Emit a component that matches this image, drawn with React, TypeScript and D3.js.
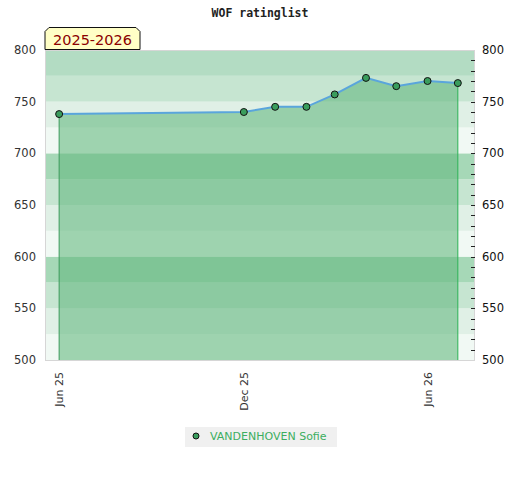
import React, { useEffect, useRef } from 'react';
import * as d3 from 'd3';

// rating history (monthly lists)
const dates = ['2025-06-01', '2025-12-01', '2026-01-01', '2026-02-01', '2026-03-01', '2026-04-01', '2026-05-01', '2026-06-01', '2026-07-01'];
const ratings = [738, 740, 745, 745, 757, 773, 765, 770, 768];
const xTickDates = ['2025-06-01', '2025-12-01', '2026-06-01'];
const yTicks = [500, 550, 600, 650, 700, 750, 800];
const seasonLabel = '2025-2026';
const playerName = 'VANDENHOVEN Sofie';
const title = 'WOF ratinglist';

const App = () => {
  const svgRef = useRef<SVGSVGElement>(null);
  const width = 520;
  const height = 480;
  const margin = { top: 50, right: 45, bottom: 120, left: 45 };

  useEffect(() => {
    const svg = d3.select(svgRef.current);
    svg.selectAll('*').remove();

    const parse = d3.timeParse('%Y-%m-%d');
    const data = dates.map((d, i) => ({ date: parse(d) as Date, value: ratings[i] }));

    const x = d3.scaleTime()
      .domain([new Date(2025, 4, 18), new Date(2026, 6, 18)])
      .range([margin.left, width - margin.right]);
    const y = d3.scaleLinear()
      .domain([500, 800])
      .range([height - margin.bottom, margin.top]);

    // background bands, every 25 points, repeating each 100
    const bandColors = ['#a6d8b7', '#c6e5d1', '#e0f0e6', '#f1f9f4'];
    const bands = d3.range(500, 800, 25);
    svg.append('g')
      .selectAll('rect')
      .data(bands)
      .enter()
      .append('rect')
      .attr('x', margin.left)
      .attr('width', width - margin.left - margin.right)
      .attr('y', d => y(d + 25))
      .attr('height', d => y(d) - y(d + 25))
      .attr('fill', d => {
        const idx = 3 - ((d - 500) % 100) / 25;
        if (d === 775) return '#b3dcc3';
        return bandColors[idx];
      });

    // area under the rating line
    const area = d3.area<{ date: Date; value: number }>()
      .x(d => x(d.date))
      .y0(y(500))
      .y1(d => y(d.value));
    svg.append('path')
      .datum(data)
      .attr('d', area)
      .attr('fill', 'rgb(99,183,125)')
      .attr('fill-opacity', 0.58);

    // vertical edges of the area
    const first = data[0];
    const last = data[data.length - 1];
    svg.append('line')
      .attr('x1', x(first.date)).attr('x2', x(first.date))
      .attr('y1', y(first.value)).attr('y2', y(500))
      .attr('stroke', '#3b9b5c').attr('stroke-width', 1);
    svg.append('line')
      .attr('x1', x(last.date)).attr('x2', x(last.date))
      .attr('y1', y(last.value)).attr('y2', y(500))
      .attr('stroke', '#2cb255').attr('stroke-width', 1);

    // rating line
    const line = d3.line<{ date: Date; value: number }>()
      .x(d => x(d.date))
      .y(d => y(d.value));
    svg.append('path')
      .datum(data)
      .attr('d', line)
      .attr('fill', 'none')
      .attr('stroke', '#5aa5dc')
      .attr('stroke-width', 2);

    // plot border
    svg.append('rect')
      .attr('x', margin.left + 0.5)
      .attr('y', margin.top + 0.5)
      .attr('width', width - margin.left - margin.right - 1)
      .attr('height', height - margin.top - margin.bottom)
      .attr('fill', 'none')
      .attr('stroke', '#d6d6d6');

    // right side minor ticks
    svg.append('g')
      .selectAll('line')
      .data(d3.range(510, 800, 10))
      .enter()
      .append('line')
      .attr('x1', width - margin.right - 4)
      .attr('x2', width - margin.right)
      .attr('y1', d => Math.round(y(d)) + 0.5)
      .attr('y2', d => Math.round(y(d)) + 0.5)
      .attr('stroke', '#222');

    // markers
    svg.append('g')
      .selectAll('circle')
      .data(data)
      .enter()
      .append('circle')
      .attr('cx', d => x(d.date))
      .attr('cy', d => y(d.value))
      .attr('r', 3.5)
      .attr('fill', '#3a9d5d')
      .attr('stroke', '#111')
      .attr('stroke-width', 1);

    // y labels, both sides
    const font = 'DejaVu Sans, Verdana, sans-serif';
    svg.append('g')
      .selectAll('text')
      .data(yTicks)
      .enter()
      .append('text')
      .attr('x', 36)
      .attr('y', d => y(d) + 4)
      .attr('text-anchor', 'end')
      .style('font-family', font)
      .style('font-size', '11.5px')
      .attr('fill', '#333')
      .text(d => d);
    svg.append('g')
      .selectAll('text')
      .data(yTicks)
      .enter()
      .append('text')
      .attr('x', 482)
      .attr('y', d => y(d) + 4)
      .attr('text-anchor', 'start')
      .style('font-family', font)
      .style('font-size', '11.5px')
      .attr('fill', '#111')
      .text(d => d);

    // x labels, rotated
    const fmt = d3.timeFormat('%b %y');
    svg.append('g')
      .selectAll('text')
      .data(xTickDates.map(d => parse(d) as Date))
      .enter()
      .append('text')
      .attr('transform', d => `translate(${x(d) + 4},${height - margin.bottom + 12}) rotate(-90)`)
      .attr('text-anchor', 'end')
      .style('font-family', font)
      .style('font-size', '11px')
      .attr('fill', '#333')
      .text(d => fmt(d));

    // title
    svg.append('text')
      .attr('x', width / 2)
      .attr('y', 17)
      .attr('text-anchor', 'middle')
      .style('font-family', 'DejaVu Sans Mono, monospace')
      .style('font-weight', 'bold')
      .style('font-size', '11.5px')
      .attr('fill', '#222')
      .text(title);

    // season label box with chamfered top corners
    const bx = 45, by = 27.5, bw = 95, bh = 22, c = 4;
    svg.append('path')
      .attr('d', `M${bx},${by + bh} L${bx},${by + c} L${bx + c},${by} L${bx + bw - c},${by} L${bx + bw},${by + c} L${bx + bw},${by + bh} Z`)
      .attr('fill', '#ffffc6')
      .attr('stroke', '#111')
      .attr('stroke-width', 1);
    svg.append('text')
      .attr('x', bx + bw / 2)
      .attr('y', by + 17)
      .attr('text-anchor', 'middle')
      .style('font-family', font)
      .style('font-size', '14.5px')
      .attr('fill', '#8b0000')
      .text(seasonLabel);

    // legend
    const legend = svg.append('g');
    legend.append('rect')
      .attr('x', 185).attr('y', 427)
      .attr('width', 152).attr('height', 20)
      .attr('fill', '#f0f0f0');
    legend.append('circle')
      .attr('cx', 196).attr('cy', 436)
      .attr('r', 3)
      .attr('fill', '#3a9d5d')
      .attr('stroke', '#111');
    legend.append('text')
      .attr('x', 210).attr('y', 440)
      .style('font-family', font)
      .style('font-size', '11px')
      .attr('fill', '#3cae5f')
      .text(playerName);
  }, []);

  return (
    <svg
      ref={svgRef}
      width={width}
      height={height}
      style={{ position: 'absolute', left: 0, top: 0, background: '#fff' }}
    />
  );
};

export default App;
